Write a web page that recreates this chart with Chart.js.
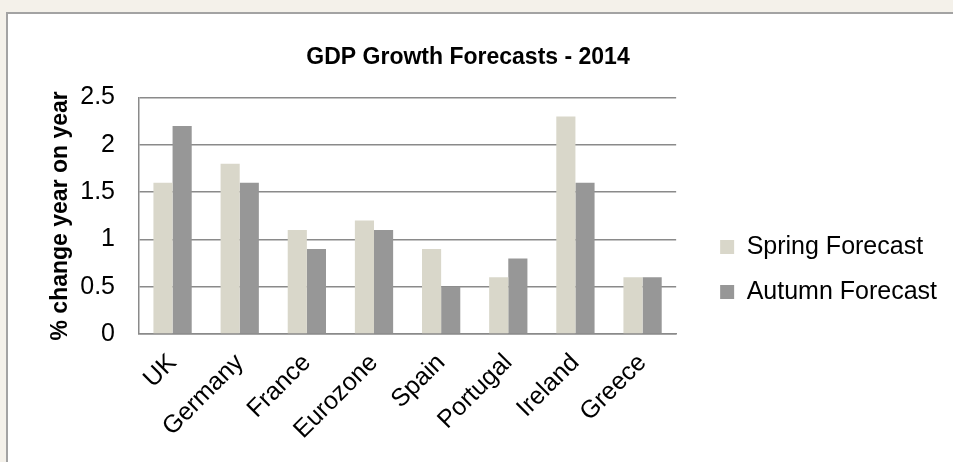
<!DOCTYPE html>
<html>
<head>
<meta charset="utf-8">
<script src="https://cdn.jsdelivr.net/npm/chart.js@4"></script>
<style>
  html, body { margin: 0; padding: 0; background: #f4f1ea; }
  #frame {
    position: absolute; left: 6px; top: 12px; width: 947px; height: 450px;
    background: #fff; border-left: 2px solid #a3a3a3; border-top: 2px solid #a3a3a3;
  }
  canvas { display: block; }
</style>
</head>
<body>
<div id="frame"><canvas id="myChart" width="945" height="448"></canvas></div>
<script>
const countries = ["UK", "Germany", "France", "Eurozone", "Spain", "Portugal", "Ireland", "Greece"];
const springForecast = [1.6, 1.8, 1.1, 1.2, 0.9, 0.6, 2.3, 0.6];
const autumnForecast = [2.2, 1.6, 0.9, 1.1, 0.5, 0.8, 1.6, 0.6];
const yTickLabels = ["0", "0.5", "1", "1.5", "2", "2.5"];

const font = "'Liberation Sans', Arial, sans-serif";
const gridColor = "#8a8a8a";

// the title sits a little left of the canvas centre
const titleShift = {
  id: "titleShift",
  afterLayout(chart) {
    chart.titleBlock.left -= 29;
    chart.titleBlock.right -= 29;
  },
};

const ctx = document.getElementById("myChart");

new Chart(ctx, {
  type: "bar",
  data: {
    labels: countries,
    datasets: [
      {
        label: "Spring Forecast",
        data: springForecast,
        backgroundColor: "#d9d7ca",
        borderWidth: 0,
        categoryPercentage: 0.57,
        barPercentage: 1.0,
      },
      {
        label: "Autumn Forecast",
        data: autumnForecast,
        backgroundColor: "#979797",
        borderWidth: 0,
        categoryPercentage: 0.57,
        barPercentage: 1.0,
      },
    ],
  },
  plugins: [titleShift],
  options: {
    responsive: false,
    animation: false,
    layout: {
      padding: { left: 39, right: 6, bottom: 11, top: 0 },
    },
    plugins: {
      title: {
        display: true,
        text: "GDP Growth Forecasts - 2014",
        color: "#000",
        font: { family: font, size: 23, weight: "bold" },
        padding: { top: 30, bottom: 26 },
      },
      legend: {
        position: "right",
        maxWidth: 320,
        title: {
          // empty title, only used to push the legend items down
          display: true,
          text: "",
          font: { size: 10 },
          padding: { top: 0, bottom: 62 },
        },
        labels: {
          color: "#000",
          font: { family: font, size: 25 },
          boxWidth: 14,
          boxHeight: 14,
          padding: 20,
        },
      },
      tooltip: { enabled: false },
    },
    scales: {
      x: {
        grid: { display: false },
        border: { display: true, color: gridColor, width: 1.5 },
        ticks: {
          color: "#000",
          font: { family: font, size: 25 },
          minRotation: 45,
          maxRotation: 45,
          padding: 6,
        },
        afterFit: (scale) => {
          scale.paddingLeft = 0;
          scale.paddingRight = 0;
        },
      },
      y: {
        min: 0,
        max: 2.5,
        grid: { color: gridColor, lineWidth: 1.5, drawTicks: false },
        border: { display: true, color: gridColor, width: 1.5 },
        ticks: {
          stepSize: 0.5,
          color: "#000",
          font: { family: font, size: 25 },
          padding: 24,
          callback: (value, index) => yTickLabels[index],
        },
        title: {
          display: true,
          text: "% change year on year",
          color: "#000",
          font: { family: font, size: 23, weight: "bold" },
          padding: { top: 0, bottom: 8 },
        },
        afterFit: (scale) => { scale.width = 92; },
      },
      gap: {
        // empty right-hand axis: space between the plot and the legend
        position: "right",
        grid: { display: false },
        border: { display: false },
        ticks: { display: false },
        afterFit: (scale) => { scale.width = 24; },
      },
    },
  },
});
</script>
</body>
</html>
